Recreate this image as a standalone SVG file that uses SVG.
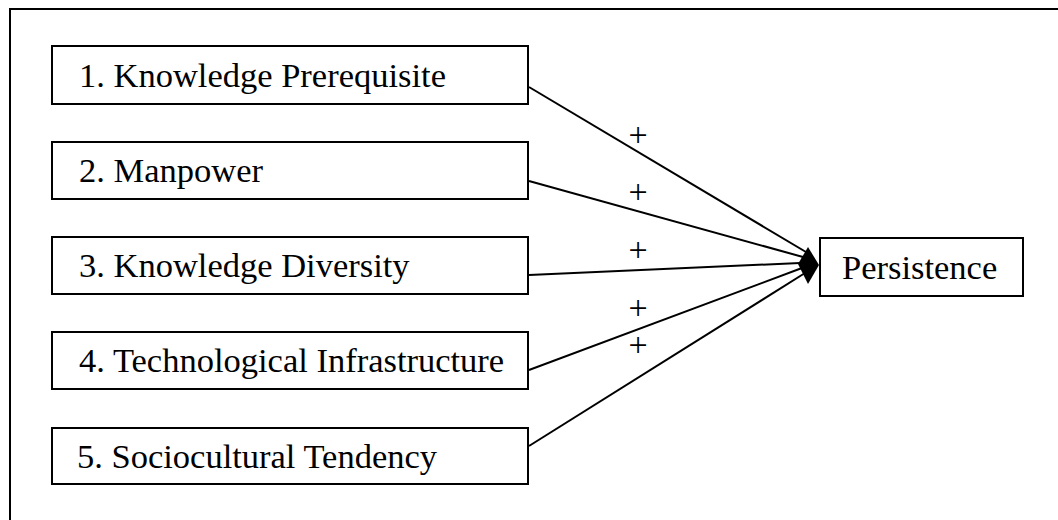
<svg xmlns="http://www.w3.org/2000/svg" width="1058" height="520" viewBox="0 0 1058 520">
  <style>
    .frame { fill: none; stroke: #000; stroke-width: 2; }
    .box { fill: #fff; stroke: #000; stroke-width: 2; }
    .label { font-family: "Liberation Serif", "Times New Roman", serif; font-size: 34.5px; fill: #000; }
    .edge { fill: none; stroke: #000; stroke-width: 2; }
    .sign { font-family: "Liberation Serif", "Times New Roman", serif; font-size: 34px; fill: #000; text-anchor: middle; }
  </style>

  <rect width="1058" height="520" fill="#fff"/>

  <!-- outer frame (continues past the right and bottom edges) -->
  <path class="frame" d="M10,522 V9 H1060"/>

  <!-- connectors -->
  <g id="connectors">
    <line class="edge" x1="529" y1="87" x2="806" y2="252"/>
    <line class="edge" x1="529" y1="181" x2="803" y2="257"/>
    <line class="edge" x1="529" y1="275" x2="800" y2="263"/>
    <line class="edge" x1="529" y1="370" x2="802" y2="268"/>
    <line class="edge" x1="529" y1="446" x2="805" y2="273"/>
    <polygon points="819,265 808,247 798,264 808,284" fill="#000"/>
    <text class="sign" x="638" y="146">+</text>
    <text class="sign" x="638" y="203">+</text>
    <text class="sign" x="638" y="261">+</text>
    <text class="sign" x="638" y="319">+</text>
    <text class="sign" x="638" y="356">+</text>
  </g>

  <g id="node-knowledge-prerequisite">
    <rect class="box" x="52" y="46" width="476" height="58"/>
    <text class="label" x="79" y="87">1. Knowledge Prerequisite</text>
  </g>
  <g id="node-manpower">
    <rect class="box" x="52" y="142" width="476" height="57"/>
    <text class="label" x="79" y="182">2. Manpower</text>
  </g>
  <g id="node-knowledge-diversity">
    <rect class="box" x="52" y="237" width="476" height="57"/>
    <text class="label" x="79" y="277">3. Knowledge Diversity</text>
  </g>
  <g id="node-technological-infrastructure">
    <rect class="box" x="52" y="332" width="476" height="57"/>
    <text class="label" x="79" y="372">4. Technological Infrastructure</text>
  </g>
  <g id="node-sociocultural-tendency">
    <rect class="box" x="52" y="428" width="476" height="56"/>
    <text class="label" x="77" y="468">5. Sociocultural Tendency</text>
  </g>
  <g id="node-persistence">
    <rect class="box" x="820" y="238" width="203" height="58"/>
    <text class="label" x="842" y="279">Persistence</text>
  </g>
</svg>
